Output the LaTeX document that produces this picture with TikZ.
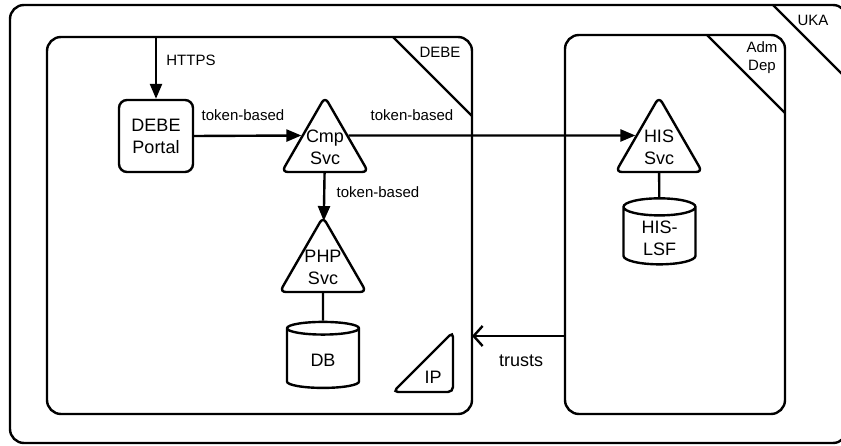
\documentclass[tikz,border=0pt]{standalone}
\usepackage{fontspec}
\setmainfont{Liberation Sans}
\usetikzlibrary{arrows.meta, shapes.geometric, calc}

\begin{document}
\begin{tikzpicture}[x=1pt, y=-1pt, line width=2.4pt,
  zone/.style={draw, rounded corners=14pt, inner sep=0pt, outer sep=0pt},
  box/.style={draw, rounded corners=8pt, minimum width=74pt, minimum height=72pt, align=center, font=\fontsize{18}{22}\selectfont},
  svc/.style={draw, regular polygon, regular polygon sides=3, minimum size=100pt, rounded corners=6pt, inner sep=-12pt, align=center, font=\fontsize{18}{22}\selectfont},
  store/.style={draw, cylinder, shape border rotate=90, aspect=0.4, minimum width=72pt, minimum height=66pt, align=center, font=\fontsize{18}{22}\selectfont},
  lbl/.style={font=\fontsize{15}{18}\selectfont, inner sep=0pt},
  big/.style={font=\fontsize{18}{22}\selectfont, inner sep=0pt},
  arr/.style={-{Triangle[length=15pt,width=12pt]}},
  barb/.style={-{Straight Barb[length=9pt,width=20pt]}}]
\useasboundingbox (0,0) rectangle (841,446);
\clip (0,0) rectangle (841,446);

% zones
\node[zone, minimum width=837pt, minimum height=438pt] (uka) at (428.5,224) {};
\node[zone, minimum width=425pt, minimum height=377pt] (debe) at (259.5,225.5) {};
\node[zone, minimum width=220pt, minimum height=379pt] (adm) at (675,224.5) {};
\draw ($(uka.north east)+(-74,0)$) -- ($(uka.north east)+(0,74)$);
\draw ($(debe.north east)+(-79,0)$) -- ($(debe.north east)+(0,79)$);
\draw ($(adm.north east)+(-78,0)$) -- ($(adm.north east)+(0,78)$);
\node[lbl] (ukalbl) at (813,20) {UKA};
\node[lbl] (debelbl) at (440,52) {DEBE};
\node[lbl, align=center] (admlbl) at (762,58) {Adm\\Dep};

% services
\node[box] (portal) at (156,136) {DEBE\\Portal};
\node[svc] (cmp) at (325,147) {Cmp\\Svc};
\node[svc] (php) at (323,267) {PHP\\Svc};
\node[svc] (his) at (659,147) {HIS\\Svc};
\node[store] (db) at (323,360) {DB};
\node[store] (lsf) at (659.5,238) {HIS-\\LSF};

% IP
\draw[rounded corners=5pt] (393,392) -- (453,392) -- (453,332) -- cycle;
\node[big] (ip) at (433,377) {IP};

% connectors
\draw[arr] (portal.north |- debe.north) -- (portal.north);
\draw[arr] (portal.east) -- (cmp.154);
\draw[arr] (cmp.26) -- (his.154);
\draw[arr, shorten >=-5pt] (cmp) -- (php);
\draw (php) -- (db);
\draw (his) -- (lsf);
\coordinate (tr) at (520,336);
\draw[barb] (tr -| adm.west) -- (tr -| debe.east);

\node[lbl] (https) at (191,60) {HTTPS};
\node[lbl] (tok1) at (243,115) {token-based};
\node[lbl] (tok2) at (412,115) {token-based};
\node[lbl] (tok3) at (378,192) {token-based};
\node[big] (trusts) at (521,361) {trusts};
\end{tikzpicture}
\end{document}
